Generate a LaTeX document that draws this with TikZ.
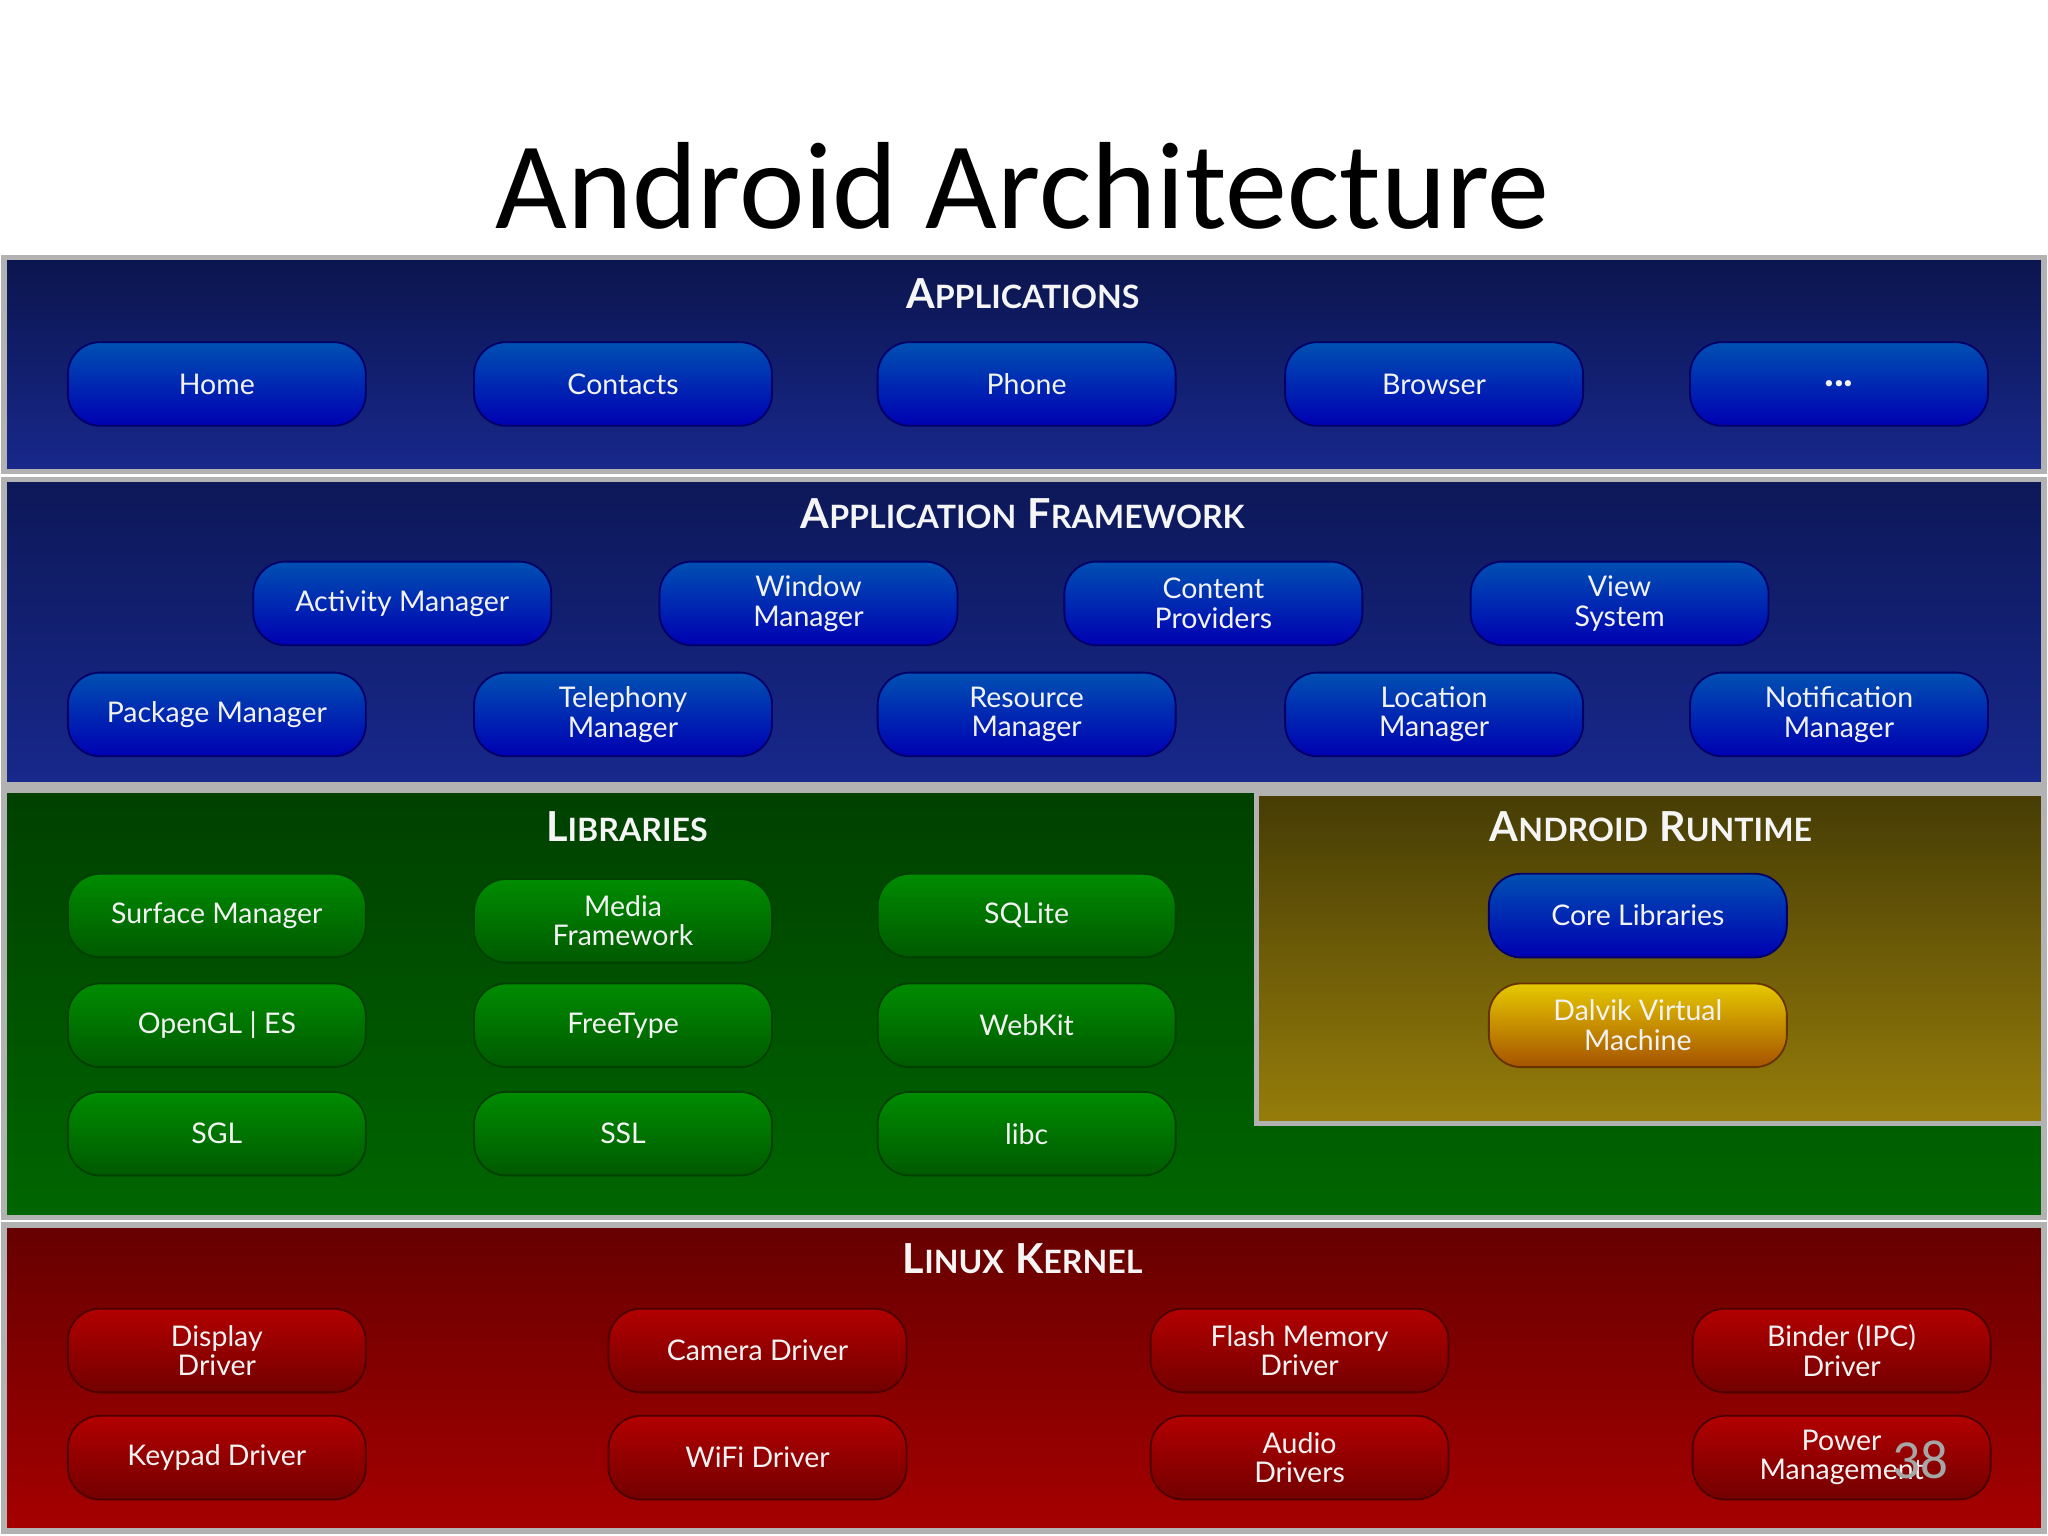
\documentclass[tikz,border=0pt]{standalone}
\usepackage{fontspec}
\setmainfont{Carlito}
\newfontfamily\btnfont{Lato}
\newcommand\sC[2]{{\fontsize{9}{9}\selectfont #1}{\fontsize{7}{7}\selectfont #2}}
\definecolor{navy}{RGB}{16,30,110}
\definecolor{navyb}{RGB}{24,40,140}
\definecolor{olivet}{RGB}{70,60,5}
\definecolor{oliveb}{RGB}{150,125,10}
\begin{document}
\begin{tikzpicture}[x=0.01cm,y=-0.01cm,
 panel/.style={draw=gray!60,line width=1.2pt},
 ptitle/.style={font=\btnfont\bfseries,text=white!92!gray},
 btn/.style={rounded corners=7pt,minimum width=2.28cm,minimum height=0.64cm,align=center,
   font=\btnfont\fontsize{6.2}{6.4}\selectfont,text=white!90!gray,inner sep=1pt},
 bb/.style={btn,top color=blue!55!cyan!70!black,bottom color=blue!70!black,draw=blue!40!black},
 gb/.style={btn,top color=green!55!black,bottom color=green!35!black,draw=green!25!black},
 rb/.style={btn,top color=red!70!black,bottom color=red!45!black,draw=red!30!black},
 yb/.style={btn,top color=yellow!75!orange!90!black,bottom color=orange!65!black,draw=orange!40!black}]
\useasboundingbox (0,0) rectangle (1568,1176);
\fill[white] (0,0) rectangle (1568,1176);
\node (title) at (783,142) {\fontsize{27}{30}\selectfont Android Architecture};
% panels
\draw[panel,top color=navy!70!black,bottom color=navyb] (3,197) rectangle (1565,361);
\draw[panel,top color=navy!80!black,bottom color=navyb] (3,367) rectangle (1565,601);
\draw[panel,top color=green!25!black,bottom color=green!40!black] (3,605) rectangle (1565,932);
\draw[panel,top color=olivet,bottom color=oliveb] (962,607) rectangle (1565,860);
\draw[panel,top color=red!40!black,bottom color=red!65!black] (3,938) rectangle (1565,1172);
\node[ptitle] (t1) at (783,225) {\sC{A}{PPLICATIONS}};
\node[ptitle] (t2) at (783,393) {\sC{A}{PPLICATION} \sC{F}{RAMEWORK}};
\node[ptitle] (t3) at (480,633) {\sC{L}{IBRARIES}};
\node[ptitle] (t4) at (1264,633) {\sC{A}{NDROID} \sC{R}{UNTIME}};
\node[ptitle] (t5) at (783,964) {\sC{L}{INUX} \sC{K}{ERNEL}};
% applications
\node[bb] (home) at (166,294) {Home};
\node[bb] (contacts) at (477,294) {Contacts};
\node[bb] (phone) at (786,294) {Phone};
\node[bb] (browser) at (1098,294) {Browser};
\node[bb] (dots) at (1408,294) {\bfseries\fontsize{9}{9}\selectfont ...};
% framework
\node[bb] (am) at (308,462) {Activity Manager};
\node[bb] (wm) at (619,462) {Window\\Manager};
\node[bb] (cp) at (929,462) {Content\\Providers};
\node[bb] (vs) at (1240,462) {View\\System};
\node[bb] (pm) at (166,547) {Package Manager};
\node[bb] (tm) at (477,547) {Telephony\\Manager};
\node[bb] (rm) at (786,547) {Resource\\Manager};
\node[bb] (lm) at (1098,547) {Location\\Manager};
\node[bb] (nm) at (1408,547) {Notification\\Manager};
% libraries
\node[gb] (sm) at (166,701) {Surface Manager};
\node[gb] (mf) at (477,705) {Media\\Framework};
\node[gb] (sq) at (786,701) {SQLite};
\node[gb] (gl) at (166,785) {OpenGL | ES};
\node[gb] (ft) at (477,785) {FreeType};
\node[gb] (wk) at (786,785) {WebKit};
\node[gb] (sgl) at (166,868) {SGL};
\node[gb] (ssl) at (477,868) {SSL};
\node[gb] (libc) at (786,868) {libc};
% runtime
\node[bb] (core) at (1254,701) {Core Libraries};
\node[yb] (dvm) at (1254,785) {Dalvik Virtual\\Machine};
% kernel
\node[rb] (dd) at (166,1034) {Display\\Driver};
\node[rb] (cd) at (580,1034) {Camera Driver};
\node[rb] (fm) at (995,1034) {Flash Memory\\Driver};
\node[rb] (bd) at (1410,1034) {Binder (IPC)\\Driver};
\node[rb] (kd) at (166,1116) {Keypad Driver};
\node[rb] (wd) at (580,1116) {WiFi Driver};
\node[rb] (ad) at (995,1116) {Audio\\Drivers};
\node[rb] (pw) at (1410,1116) {Power\\Management};
\node[text=gray!70] (pg) at (1470,1118) {\fontsize{12}{13}\selectfont 38};
\end{tikzpicture}
\end{document}
